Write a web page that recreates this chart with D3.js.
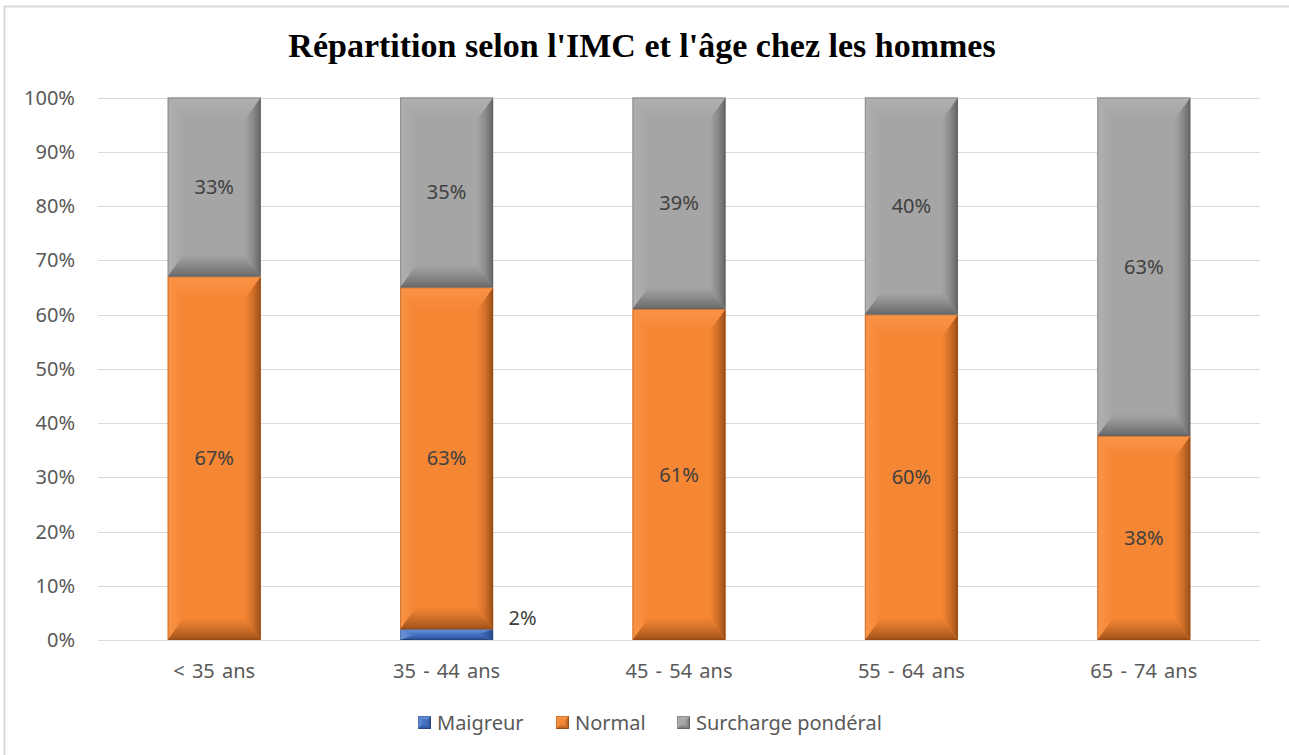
<!DOCTYPE html>
<html>
<head>
<meta charset="utf-8">
<script src="https://cdn.jsdelivr.net/npm/d3@7"></script>
<style>
  html, body { margin: 0; background: #fff; overflow: hidden; }
  svg { display: block; }
  svg text { font-family: "Noto Sans", "Open Sans", sans-serif; }
</style>
</head>
<body>
<svg id="chart"></svg>
<script>
const categories = ["< 35 ans", "35 - 44 ans", "45 - 54 ans", "55 - 64 ans", "65 - 74 ans"];
const seriesNames = ["Maigreur", "Normal", "Surcharge pondéral"];
const maigreur = [0, 2, 0, 0, 0];
const normal = [67, 63, 61, 60, 38];
const surcharge = [33, 35, 39, 40, 63];
const yTicks = [0, 10, 20, 30, 40, 50, 60, 70, 80, 90, 100];

const width = 1289;
const height = 755;
const margin = { left: 98, right: 29, top: 97.5, bottom: 115 };

// face, light and dark tones for each series
const palette = [
  { id: "s0", face: "#4472c4", light: "#6d94d8", dark: "#1f3a6e" },
  { id: "s1", face: "#f58634", light: "#f99448", dark: "#7e3c0f" },
  { id: "s2", face: "#a5a5a5", light: "#b0b0b0", dark: "#4f4f4f" },
];

const svg = d3.select("#chart").attr("width", width).attr("height", height);
const defs = svg.append("defs");

function grad(id, x1, y1, x2, y2, stops) {
  const g = defs.append("linearGradient").attr("id", id)
    .attr("x1", x1).attr("y1", y1).attr("x2", x2).attr("y2", y2);
  stops.forEach(s => g.append("stop").attr("offset", s[0]).attr("stop-color", s[1]).attr("stop-opacity", s[2]));
}
palette.forEach(p => {
  grad(p.id + "top", 0, 0, 0, 1, [[0, p.light, 1], [1, p.face, 1]]);
  grad(p.id + "bot", 0, 0, 0, 1, [[0, p.face, 1], [0.4, d3.interpolateRgb(p.face, p.dark)(0.25), 1], [1, d3.interpolateRgb(p.face, p.dark)(0.7), 1]]);
  grad(p.id + "left", 0, 0, 1, 0, [[0, p.light, 1], [1, p.face, 1]]);
  grad(p.id + "right", 0, 0, 1, 0, [[0, p.face, 1], [0.5, d3.interpolateRgb(p.face, p.dark)(0.3), 1], [1, d3.interpolateRgb(p.face, p.dark)(0.75), 1]]);
});

// chart frame (only the left and top edges fall inside the picture)
svg.append("path")
  .attr("d", `M4.5,${height} V6.5 H${width}`)
  .style("fill", "none").style("stroke", "#d9d9d9").style("stroke-width", 2);

svg.append("text")
  .attr("x", 642).attr("y", 57)
  .attr("text-anchor", "middle")
  .style("font-family", "'Liberation Serif', serif")
  .style("font-weight", "bold")
  .style("font-size", "34px")
  .style("fill", "#000")
  .text("Répartition selon l'IMC et l'âge chez les hommes");

const rows = categories.map((c, i) => {
  const total = maigreur[i] + normal[i] + surcharge[i];
  return { cat: c, values: [maigreur[i], normal[i], surcharge[i]], total };
});

const xc = d3.scaleBand().domain(categories).range([margin.left, width - margin.right]);
const y = d3.scaleLinear().domain([0, 1]).range([height - margin.bottom, margin.top]);

// gridlines
svg.append("g")
  .selectAll("line").data(yTicks).enter().append("line")
  .attr("x1", margin.left).attr("x2", width - margin.right)
  .attr("y1", d => Math.round(y(d / 100)) + 0.5)
  .attr("y2", d => Math.round(y(d / 100)) + 0.5)
  .style("stroke", "#d9d9d9").style("stroke-width", 1);

// y labels
svg.append("g")
  .selectAll("text").data(yTicks).enter().append("text")
  .attr("x", 75).attr("y", d => y(d / 100))
  .attr("dy", "0.35em").attr("text-anchor", "end")
  .style("font-size", "20px").style("fill", "#595959")
  .text(d => d + "%");

// x labels
svg.append("g")
  .selectAll("text").data(categories).enter().append("text")
  .attr("x", d => xc(d) + xc.bandwidth() / 2).attr("y", 671)
  .attr("dy", "0.35em").attr("text-anchor", "middle")
  .style("font-size", "20px").style("fill", "#595959")
  .style("word-spacing", "2px")
  .text(d => d);

const segments = [];
rows.forEach(r => {
  let acc = 0;
  r.values.forEach((v, k) => {
    const y0 = acc / r.total;
    acc += v;
    const y1 = acc / r.total;
    if (v > 0) segments.push({ cat: r.cat, k, v, y0, y1 });
  });
});

function bevel(g, x0, x1, top, bottom, col, bvMax, bsMax) {
  const h = bottom - top;
  const bv = Math.min(bvMax, h / 2);
  const bs = Math.min(bsMax, (x1 - x0) / 2);
  g.append("rect").attr("x", x0).attr("y", top)
    .attr("width", x1 - x0).attr("height", h).style("fill", col.face);
  // left facet
  g.append("polygon")
    .attr("points", [[x0, top], [x0 + bs, top + bv], [x0 + bs, bottom - bv], [x0, bottom]].join(" "))
    .style("fill", `url(#${col.id}left)`);
  // right facet
  g.append("polygon")
    .attr("points", [[x1, top], [x1 - bs, top + bv], [x1 - bs, bottom - bv], [x1, bottom]].join(" "))
    .style("fill", `url(#${col.id}right)`);
  // top facet
  g.append("polygon")
    .attr("points", [[x0, top], [x1, top], [x1 - bs, top + bv], [x0 + bs, top + bv]].join(" "))
    .style("fill", `url(#${col.id}top)`);
  // bottom facet
  g.append("polygon")
    .attr("points", [[x0, bottom], [x1, bottom], [x1 - bs, bottom - bv], [x0 + bs, bottom - bv]].join(" "))
    .style("fill", `url(#${col.id}bot)`);
  g.append("rect").attr("x", x0 + 0.5).attr("y", top + 0.5)
    .attr("width", x1 - x0 - 1).attr("height", Math.max(0, h - 1))
    .style("fill", "none").style("stroke", col.dark).style("stroke-opacity", 0.35).style("stroke-width", 1);
}

const bars = svg.append("g");
segments.forEach(s => {
  const cx = xc(s.cat) + xc.bandwidth() / 2;
  const bw = 93;
  const g = bars.append("g");
  bevel(g, cx - bw / 2, cx + bw / 2, y(s.y1), y(s.y0), palette[s.k], 22, 16);
});

// value labels
svg.append("g")
  .selectAll("text").data(segments).enter().append("text")
  .attr("x", d => {
    const cx = xc(d.cat) + xc.bandwidth() / 2;
    return d.v < 5 ? cx + 76 : cx;
  })
  .attr("y", d => d.v < 5 ? 618 : y((d.y0 + d.y1) / 2))
  .attr("dy", "0.35em").attr("text-anchor", "middle")
  .style("font-size", "20px").style("fill", "#404040")
  .text(d => d.v + "%");

// legend
const legendX = [418, 556, 677];
const legend = svg.append("g");
seriesNames.forEach((name, k) => {
  const g = legend.append("g");
  bevel(g, legendX[k], legendX[k] + 13, 716, 729, palette[k], 5, 5);
  g.append("text")
    .attr("x", legendX[k] + 19).attr("y", 722.5)
    .attr("dy", "0.35em")
    .style("font-size", "20px").style("fill", "#595959")
    .text(name);
});
</script>
</body>
</html>
